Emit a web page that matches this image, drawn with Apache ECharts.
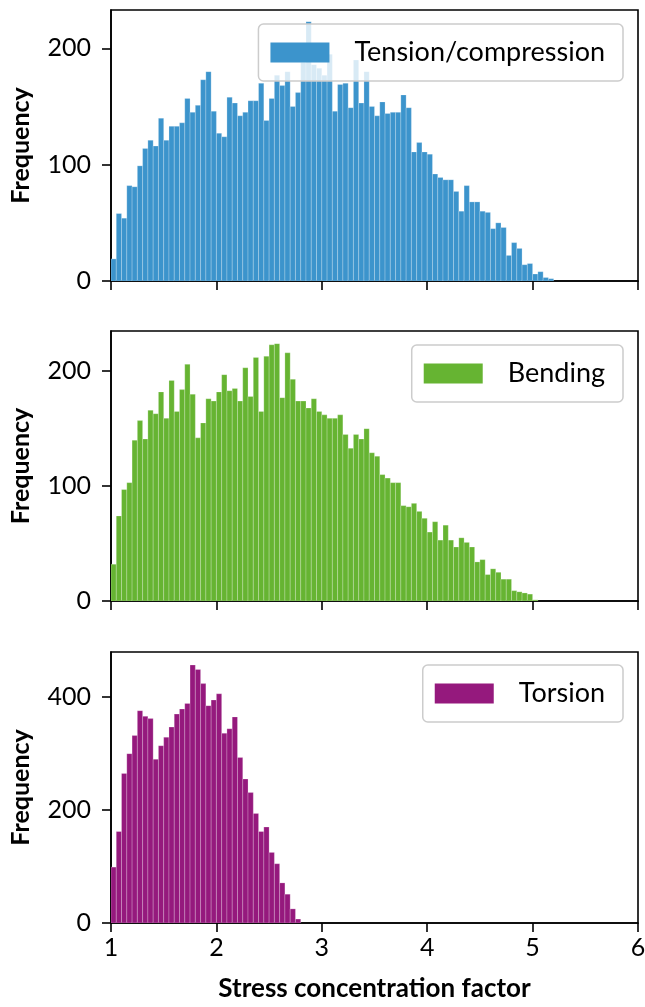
<!DOCTYPE html>
<html>
<head>
<meta charset="utf-8">
<script src="https://cdn.jsdelivr.net/npm/echarts@6/dist/echarts.min.js"></script>
<style>
  html, body { margin: 0; padding: 0; background: #fff; }
  #chart { width: 645px; height: 1007px; }
</style>
</head>
<body>
<div id="chart"></div>
<script>
// ---- data ----
const xTicks = [1, 2, 3, 4, 5, 6];
const binStart = 1.0;
const binWidth = 0.05;
const seriesNames = ['Tension/compression', 'Bending', 'Torsion'];
const seriesColors = ['#3c94cc', '#66b432', '#95197d'];
const yTicksTension = [0, 100, 200];
const yTicksBending = [0, 100, 200];
const yTicksTorsion = [0, 200, 400];
const yMax = [233, 235, 480];

const tension = [19, 58, 54, 82, 81, 99, 114, 121, 116, 140,
  121, 133, 133, 136, 157, 145, 151, 173, 180, 146,
  127, 124, 158, 153, 142, 145, 155, 155, 170, 138,
  157, 177, 168, 180, 150, 162, 188, 223, 186, 183,
  177, 195, 146, 169, 170, 149, 190, 153, 180, 150,
  142, 154, 144, 145, 145, 160, 149, 111, 119, 111,
  109, 92, 89, 87, 87, 77, 60, 82, 68, 68,
  60, 59, 45, 50, 46, 22, 33, 28, 14, 15,
  6, 8, 3, 2];
const bending = [32, 74, 97, 103, 140, 157, 141, 166, 163, 182,
  159, 192, 165, 184, 206, 180, 142, 155, 176, 174,
  182, 197, 183, 185, 174, 203, 178, 212, 165, 213,
  223, 224, 177, 216, 193, 174, 174, 168, 176, 165,
  162, 159, 159, 162, 145, 133, 145, 141, 150, 129,
  126, 110, 107, 103, 103, 83, 82, 85, 78, 72,
  60, 69, 53, 66, 53, 47, 55, 51, 47, 34,
  36, 23, 28, 25, 19, 19, 9, 8, 7, 6,
  1];
const torsion = [99, 162, 265, 300, 332, 376, 366, 362, 290, 314,
  329, 347, 370, 379, 389, 457, 449, 424, 385, 395,
  406, 336, 344, 365, 293, 255, 231, 194, 162, 170,
  125, 105, 71, 51, 25, 7];

// ---- build ----
function toBins(counts) {
  return counts.map((c, i) => {
    const x0 = +(binStart + i * binWidth).toFixed(4);
    const x1 = +(binStart + (i + 1) * binWidth).toFixed(4);
    return [x0, x1, c];
  });
}
const allCounts = [tension, bending, torsion];
const yTickSets = [yTicksTension, yTicksBending, yTicksTorsion];

const FONT = 'Lato';
const gridTops = [10, 331, 652];
const gridH = [271, 270, 271];
const legendTops = [24, 345, 665];

function renderItem(params, api) {
  const p0 = api.coord([api.value(0), api.value(2)]);
  const p1 = api.coord([api.value(1), 0]);
  return {
    type: 'rect',
    shape: { x: p0[0], y: p0[1], width: p1[0] - p0[0], height: p1[1] - p0[1] },
    style: { fill: api.visual('color'), stroke: 'rgba(255,255,255,0.28)', lineWidth: 0.8 }
  };
}

const grids = [], xAxes = [], yAxes = [], series = [], legends = [];
for (let k = 0; k < 3; k++) {
  grids.push({
    left: 111, width: 527, top: gridTops[k], height: gridH[k],
    outerBoundsMode: 'none', containLabel: false,
    show: true, borderColor: '#000', borderWidth: 1.6, backgroundColor: 'transparent'
  });
  const bottom = k === 2;
  xAxes.push({
    type: 'value', gridIndex: k, min: 1, max: 6, interval: 1,
    axisLine: { show: true, onZero: false, lineStyle: { color: '#000', width: 1.6 } },
    axisTick: { show: true, length: 9, lineStyle: { color: '#000', width: 1.6 }, customValues: xTicks },
    axisLabel: { show: bottom, customValues: xTicks, color: '#000', fontFamily: FONT, fontSize: 25, margin: 12 },
    splitLine: { show: false },
    name: bottom ? 'Stress concentration factor' : '',
    nameLocation: 'middle', nameGap: 53,
    nameTextStyle: { color: '#000', fontFamily: FONT, fontSize: 26, fontWeight: 'bold' }
  });
  yAxes.push({
    type: 'value', gridIndex: k, min: 0, max: yMax[k],
    axisLine: { show: true, lineStyle: { color: '#000', width: 1.6 } },
    axisTick: { show: true, length: 9, lineStyle: { color: '#000', width: 1.6 }, customValues: yTickSets[k] },
    axisLabel: { customValues: yTickSets[k], color: '#000', fontFamily: FONT, fontSize: 25, margin: 20 },
    splitLine: { show: false },
    name: 'Frequency', nameLocation: 'middle', nameRotate: 90, nameGap: 78,
    nameTextStyle: { color: '#000', fontFamily: FONT, fontSize: 25, fontWeight: 'bold' }
  });
  series.push({
    type: 'custom', name: seriesNames[k], xAxisIndex: k, yAxisIndex: k,
    renderItem: renderItem, clip: true,
    itemStyle: { color: seriesColors[k] },
    encode: { x: [0, 1], y: 2 },
    data: toBins(allCounts[k])
  });
  legends.push({
    data: [seriesNames[k]], right: 22, top: legendTops[k], z: 20,
    icon: 'rect', itemWidth: 59, itemHeight: 20,
    backgroundColor: 'rgba(255,255,255,0.8)', borderColor: '#cccccc', borderWidth: 1.5, borderRadius: 5,
    padding: [15, 18, 15, 12],
    textStyle: { color: '#000', fontFamily: FONT, fontSize: 27, lineHeight: 20, padding: [0, 0, 0, 20] }
  });
}

const chart = echarts.init(document.getElementById('chart'), null, { renderer: 'canvas' });
chart.setOption({
  animation: false,
  backgroundColor: '#fff',
  grid: grids, xAxis: xAxes, yAxis: yAxes, series: series, legend: legends
});
</script>
</body>
</html>
